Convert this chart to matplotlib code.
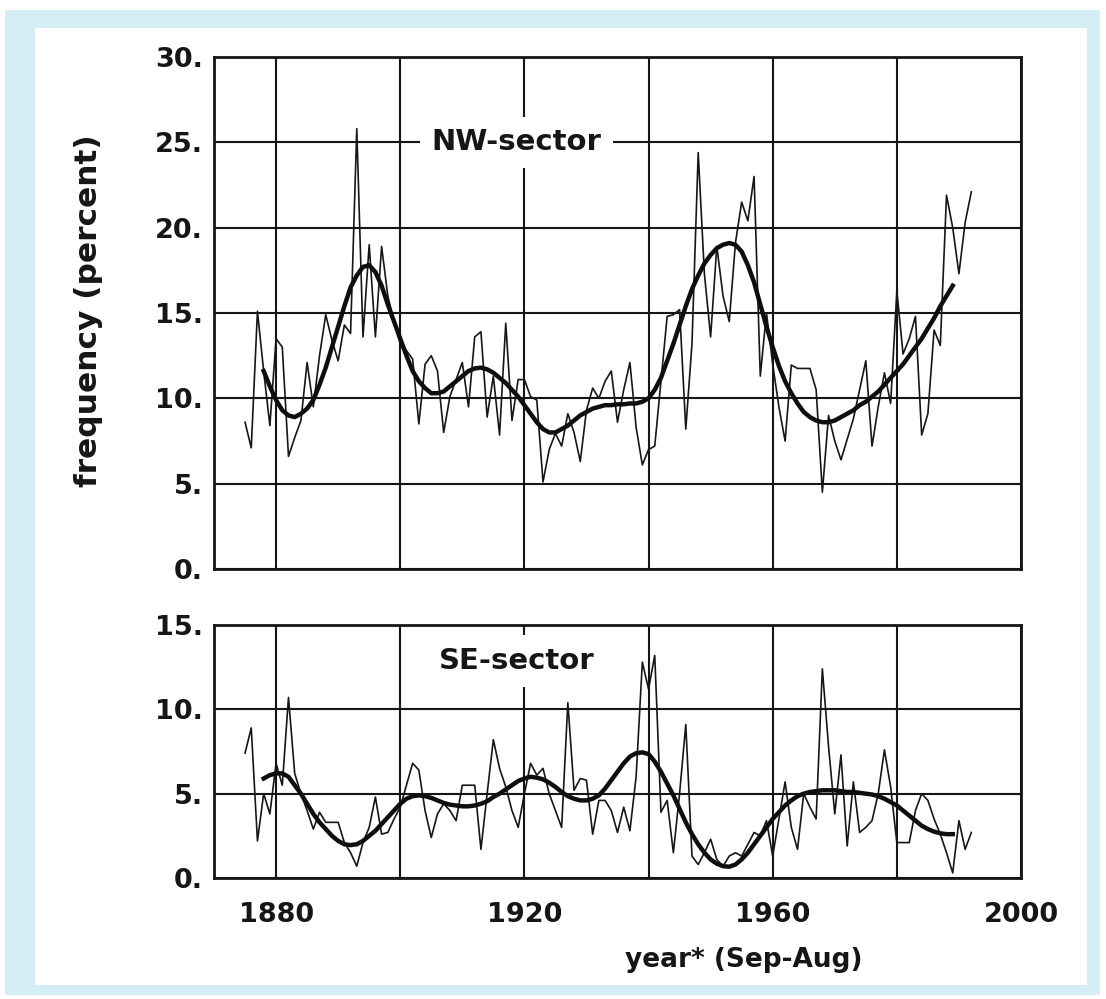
import matplotlib
matplotlib.use("Agg")
import matplotlib.pyplot as plt
from matplotlib.patches import Rectangle
from matplotlib.ticker import FixedLocator

# ---------------- data ----------------
years = list(range(1875, 1993))
nw_raw = [
    8.6, 7.1, 15.1, 11.6, 8.4, 13.5, 13.0, 6.6, 7.7, 8.7,        # 1875-1884
    12.1, 9.5, 12.5, 14.9, 13.4, 12.2, 14.3, 13.8, 25.8, 13.6,   # 1885-1894
    19.0, 13.6, 18.9, 16.0, 14.5, 13.2, 12.8, 12.3, 8.5, 12.0,   # 1895-1904
    12.5, 11.6, 8.0, 10.1, 11.1, 12.1, 9.5, 13.6, 13.9, 8.9,     # 1905-1914
    11.3, 7.85, 14.4, 8.7, 11.1, 11.1, 10.1, 9.9, 5.1, 7.0,      # 1915-1924
    7.95, 7.2, 9.1, 8.0, 6.3, 9.3, 10.6, 10.0, 11.0, 11.6,       # 1925-1934
    8.6, 10.5, 12.1, 8.3, 6.1, 7.0, 7.2, 11.0, 14.8, 14.9,       # 1935-1944
    15.2, 8.2, 13.2, 24.4, 17.3, 13.6, 18.9, 16.0, 14.5, 19.1,   # 1945-1954
    21.5, 20.4, 23.0, 11.3, 15.0, 12.0, 9.5, 7.5, 11.95, 11.75,  # 1955-1964
    11.75, 11.75, 10.5, 4.5, 9.0, 7.5, 6.4, 7.6, 8.8, 10.5,      # 1965-1974
    12.2, 7.2, 9.5, 11.5, 9.7, 16.3, 12.6, 13.5, 14.8, 7.85,     # 1975-1984
    9.1, 14.0, 13.1, 21.9, 20.0, 17.3, 20.3, 22.1,               # 1985-1992
]
smooth_years = list(range(1878, 1990))
nw_smooth = [
    11.6, 10.7, 9.9, 9.3, 9.0, 8.9, 9.1, 9.4, 9.9, 10.8,        # 1878-1887
    11.8, 13.0, 14.2, 15.4, 16.5, 17.2, 17.7, 17.8, 17.4, 16.6, # 1888-1897
    15.5, 14.5, 13.5, 12.5, 11.6, 11.0, 10.6, 10.3, 10.3, 10.4, # 1898-1907
    10.7, 11.0, 11.3, 11.6, 11.75, 11.8, 11.7, 11.5, 11.2, 10.9,# 1908-1917
    10.5, 10.1, 9.6, 9.1, 8.6, 8.2, 8.0, 8.0, 8.2, 8.4,         # 1918-1927
    8.7, 9.0, 9.2, 9.4, 9.5, 9.6, 9.6, 9.65, 9.65, 9.7,         # 1928-1937
    9.7, 9.8, 10.0, 10.5, 11.2, 12.2, 13.2, 14.3, 15.4, 16.4,   # 1938-1947
    17.2, 17.9, 18.4, 18.8, 19.0, 19.1, 19.0, 18.6, 17.8, 16.8, # 1948-1957
    15.5, 14.2, 13.0, 11.9, 11.0, 10.3, 9.7, 9.2, 8.9, 8.7,     # 1958-1967
    8.6, 8.6, 8.7, 8.9, 9.1, 9.3, 9.6, 9.8, 10.1, 10.4,         # 1968-1977
    10.8, 11.2, 11.6, 12.0, 12.5, 13.0, 13.5, 14.1, 14.7, 15.4, # 1978-1987
    16.0, 16.6,                                                 # 1988-1989
]
se_raw = [
    7.4, 8.9, 2.2, 5.0, 3.8, 6.8, 5.5, 10.7, 6.2, 5.0,          # 1875-1884
    4.0, 2.9, 3.9, 3.3, 3.3, 3.3, 2.1, 1.5, 0.7, 2.1,           # 1885-1894
    3.0, 4.8, 2.6, 2.7, 3.5, 4.2, 5.5, 6.8, 6.4, 4.0,           # 1895-1904
    2.4, 3.8, 4.4, 4.0, 3.4, 5.5, 5.5, 5.5, 1.7, 5.0,           # 1905-1914
    8.2, 6.5, 5.4, 4.0, 3.0, 5.0, 6.8, 6.1, 6.5, 5.0,           # 1915-1924
    4.0, 3.0, 10.4, 5.2, 5.9, 5.8, 2.6, 4.6, 4.6, 4.0,          # 1925-1934
    2.7, 4.2, 2.8, 6.0, 12.8, 11.2, 13.2, 3.9, 4.6, 1.5,        # 1935-1944
    5.0, 9.1, 1.3, 0.8, 1.5, 2.3, 1.1, 0.7, 1.3, 1.5,           # 1945-1954
    1.3, 2.0, 2.7, 2.5, 3.4, 1.3, 3.5, 5.7, 3.0, 1.7,           # 1955-1964
    5.0, 4.2, 3.5, 12.4, 7.8, 3.8, 7.3, 1.9, 5.7, 2.7,          # 1965-1974
    3.0, 3.4, 5.0, 7.6, 5.4, 2.1, 2.1, 2.1, 4.0, 5.0,           # 1975-1984
    4.6, 3.5, 2.6, 1.5, 0.3, 3.4, 1.7, 2.7,                     # 1985-1992
]
se_smooth = [
    5.9, 6.1, 6.2, 6.2, 6.0, 5.5, 5.0, 4.4, 3.8, 3.3,           # 1878-1887
    2.9, 2.5, 2.2, 2.0, 1.95, 2.0, 2.2, 2.5, 2.8, 3.2,          # 1888-1897
    3.6, 4.0, 4.4, 4.7, 4.85, 4.9, 4.85, 4.75, 4.6, 4.45,       # 1898-1907
    4.35, 4.3, 4.25, 4.25, 4.3, 4.4, 4.55, 4.8, 5.0, 5.25,      # 1908-1917
    5.5, 5.75, 5.9, 6.0, 5.95, 5.85, 5.65, 5.4, 5.1, 4.85,      # 1918-1927
    4.7, 4.6, 4.6, 4.7, 4.9, 5.3, 5.8, 6.3, 6.8, 7.2,           # 1928-1937
    7.4, 7.45, 7.35, 6.9, 6.3, 5.6, 4.9, 4.1, 3.3, 2.6,         # 1938-1947
    2.0, 1.5, 1.1, 0.85, 0.7, 0.67, 0.8, 1.1, 1.5, 2.0,         # 1948-1957
    2.5, 3.0, 3.5, 3.9, 4.3, 4.6, 4.85, 5.0, 5.1, 5.15,         # 1958-1967
    5.2, 5.2, 5.2, 5.15, 5.1, 5.1, 5.05, 5.0, 4.95, 4.85,       # 1968-1977
    4.7, 4.5, 4.3, 4.0, 3.7, 3.4, 3.1, 2.9, 2.75, 2.65,         # 1978-1987
    2.6, 2.6,                                                   # 1988-1989
]

x_label_ticks = [1880, 1920, 1960, 2000]
x_label_texts = ["1880", "1920", "1960", "2000"]
x_grid_extra = [1900, 1940, 1980]
nw_yticks = [0, 5, 10, 15, 20, 25, 30]
nw_ylabels = ["0.", "5.", "10.", "15.", "20.", "25.", "30."]
se_yticks = [0, 5, 10, 15]
se_ylabels = ["0.", "5.", "10.", "15."]

# ---------------- figure ----------------
W, H = 1106, 999
fig = plt.figure(figsize=(W / 100, H / 100), dpi=100)
fig.patch.set_facecolor("white")
blue = "#d5edf5"
fig.patches.append(Rectangle((5 / W, 1 - 995 / H), 1095 / W, 985 / H,
                             transform=fig.transFigure, facecolor=blue,
                             edgecolor="none", zorder=-3))
fig.patches.append(Rectangle((35 / W, 1 - 985 / H), 1052 / W, 957 / H,
                             transform=fig.transFigure, facecolor="white",
                             edgecolor="none", zorder=-2))

FONT = "DejaVu Sans"
FS = 19.5
INK = "#161616"
ax1 = fig.add_axes([214 / W, 1 - 569 / H, 807 / W, 512 / H])
ax2 = fig.add_axes([214 / W, 1 - 878 / H, 807 / W, 253 / H])


def style(ax, yt, yl, show_x):
    ax.set_xlim(1870, 2000)
    ax.set_ylim(yt[0], yt[-1])
    ax.xaxis.set_major_locator(FixedLocator(x_label_ticks))
    ax.xaxis.set_minor_locator(FixedLocator(x_grid_extra))
    ax.set_xticklabels(x_label_texts if show_x else [])
    ax.set_yticks(yt)
    ax.set_yticklabels(yl)
    ax.tick_params(axis="both", which="both", length=0)
    ax.tick_params(axis="x", pad=17, labelbottom=show_x)
    ax.tick_params(axis="y", pad=8)
    for lab in ax.get_xticklabels() + ax.get_yticklabels():
        lab.set_fontfamily(FONT)
        lab.set_fontsize(FS)
        lab.set_fontweight("bold")
        lab.set_color(INK)
    ax.grid(True, which="both", color=INK, linewidth=1.5)
    ax.set_axisbelow(True)
    for s in ax.spines.values():
        s.set_linewidth(2.0)
        s.set_color(INK)
    ax.set_facecolor("white")


style(ax1, nw_yticks, nw_ylabels, False)
style(ax2, se_yticks, se_ylabels, True)

ax1.plot(years, nw_raw, color=INK, linewidth=1.2, zorder=3)
ax1.plot(smooth_years, nw_smooth, color="#0e0e0e", linewidth=3.2, zorder=4)
ax2.plot(years, se_raw, color=INK, linewidth=1.2, zorder=3)
ax2.plot(smooth_years, se_smooth, color="#0e0e0e", linewidth=3.2, zorder=4)

box = dict(boxstyle="square,pad=0.4", facecolor="white", edgecolor="none")
ax1.text(1918.7, 25, "NW-sector", ha="center", va="center", fontsize=21,
         fontweight="bold", family=FONT, color=INK, bbox=box, zorder=5)
ax2.text(1918.7, 12.86, "SE-sector", ha="center", va="center", fontsize=21,
         fontweight="bold", family=FONT, color=INK, bbox=box, zorder=5)

fig.text(89 / W, 1 - 311 / H, "frequency (percent)", rotation=90,
         ha="center", va="center", fontsize=22.5, fontweight="bold",
         family=FONT, color=INK)
fig.text(744 / W, 1 - 960 / H, "year* (Sep-Aug)", ha="center", va="center",
         fontsize=19, fontweight="bold", family=FONT, color=INK)

fig.savefig("out.png", dpi=100, facecolor=fig.get_facecolor())
